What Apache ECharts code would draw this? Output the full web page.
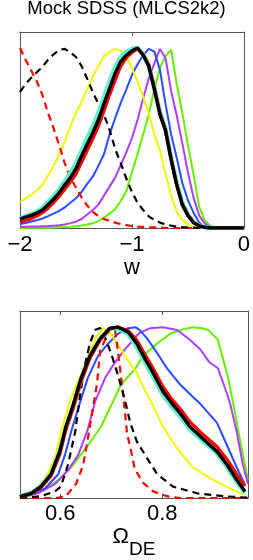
<!DOCTYPE html>
<html><head><meta charset="utf-8">
<script src="https://cdn.jsdelivr.net/npm/echarts@6/dist/echarts.min.js"></script>
<style>html,body{margin:0;padding:0;background:#fff}#c{width:253px;height:560px}</style>
</head><body><div id="c"></div>
<script>
const titleText = 'Mock SDSS (MLCS2k2)';
const topAxisName = 'w';
const wTicks = [-2, -1, 0];
const omTicks = [0.6, 0.8];

// top panel: w grid and normalised posteriors
const wGrid = [-2,-1.95,-1.9,-1.85,-1.8,-1.75,-1.7,-1.65,-1.6,-1.55,-1.5,-1.45,-1.4,-1.35,-1.3,-1.25,-1.2,-1.15,-1.1,-1.05,-1,-0.95,-0.9,-0.85,-0.8,-0.75,-0.7,-0.65,-0.6,-0.55,-0.5,-0.45,-0.4,-0.35,-0.3,-0.25,-0.2,-0.15,-0.1,-0.05,0];
const wGreen  = [0,0,0.001,0.001,0.002,0.002,0.003,0.004,0.005,0.007,0.01,0.014,0.019,0.026,0.038,0.058,0.08,0.105,0.15,0.205,0.31,0.41,0.52,0.63,0.77,0.89,0.955,0.99,0.80,0.64,0.46,0.30,0.12,0.04,0.012,0,0,0,0,0,0];
const wPurple = [0.006,0.007,0.008,0.009,0.010,0.011,0.013,0.015,0.02,0.027,0.035,0.05,0.075,0.10,0.13,0.18,0.23,0.28,0.35,0.42,0.50,0.60,0.72,0.83,0.915,0.995,0.945,0.76,0.625,0.47,0.31,0.17,0.07,0.025,0.006,0,0,0,0,0,0];
const wBlue   = [0.022,0.028,0.036,0.043,0.053,0.066,0.08,0.095,0.115,0.14,0.165,0.20,0.245,0.285,0.345,0.41,0.52,0.61,0.695,0.77,0.85,0.91,0.96,0.995,0.98,0.88,0.69,0.52,0.39,0.25,0.155,0.085,0.03,0.004,0,0,0,0,0,0,0];
const wYellow = [0.144,0.165,0.185,0.21,0.24,0.29,0.345,0.41,0.48,0.565,0.64,0.70,0.77,0.84,0.90,0.955,0.98,0.995,0.985,0.955,0.89,0.815,0.73,0.64,0.52,0.43,0.30,0.18,0.09,0.045,0.02,0.004,0,0,0,0,0,0,0,0,0];
const wCyan   = [0.055,0.066,0.078,0.092,0.112,0.145,0.178,0.215,0.26,0.305,0.36,0.43,0.50,0.565,0.64,0.73,0.815,0.895,0.95,0.98,0.995,1.0,0.965,0.905,0.78,0.645,0.55,0.39,0.25,0.14,0.075,0.033,0.013,0.004,0,0,0,0,0,0,0];
const wRed    = [0.033,0.042,0.052,0.066,0.085,0.11,0.14,0.175,0.215,0.255,0.30,0.365,0.43,0.495,0.565,0.65,0.74,0.82,0.90,0.945,0.975,0.995,0.965,0.905,0.78,0.64,0.545,0.385,0.24,0.13,0.07,0.03,0.012,0.004,0,0,0,0,0,0,0];
const wBlack  = [0.05,0.06,0.07,0.083,0.10,0.13,0.16,0.195,0.24,0.28,0.33,0.40,0.465,0.53,0.60,0.69,0.775,0.86,0.925,0.96,0.985,1.0,0.96,0.90,0.77,0.63,0.54,0.38,0.24,0.13,0.07,0.03,0.012,0.004,0,0,0,0,0,0,0];
const wRedDash = [1.0,0.935,0.875,0.815,0.74,0.64,0.555,0.46,0.36,0.28,0.225,0.17,0.125,0.09,0.065,0.05,0.04,0.03,0.022,0.016,0.011,0.008,0.006,0.004,0.003,0.002,0.001,0,0,0,0,0,0,0,0,0,0,0,0,0,0];
const wBlackDash = [0.756,0.80,0.835,0.865,0.895,0.935,0.965,0.99,0.995,0.975,0.95,0.90,0.83,0.755,0.69,0.63,0.545,0.44,0.36,0.275,0.20,0.14,0.10,0.065,0.045,0.03,0.02,0.013,0.008,0.005,0.003,0.002,0.001,0,0,0,0,0,0,0,0];

// bottom panel: [Omega_DE, normalised posterior]
const omGreen = [[0.521,0.003],[0.537,0.011],[0.570,0.05],[0.596,0.106],[0.621,0.178],[0.654,0.306],[0.680,0.417],[0.703,0.56],[0.719,0.661],[0.737,0.72],[0.748,0.756],[0.762,0.828],[0.790,0.90],[0.815,0.956],[0.841,0.983],[0.860,0.994],[0.878,0.989],[0.890,0.978],[0.909,0.922],[0.919,0.811],[0.929,0.70],[0.939,0.55],[0.952,0.344],[0.962,0.194],[0.968,0.106]];
const omPurple = [[0.521,0.005],[0.531,0.01],[0.556,0.028],[0.590,0.083],[0.615,0.161],[0.635,0.25],[0.654,0.40],[0.668,0.56],[0.688,0.70],[0.707,0.789],[0.727,0.867],[0.737,0.90],[0.748,0.94],[0.756,0.962],[0.776,0.989],[0.801,0.994],[0.829,0.978],[0.854,0.922],[0.874,0.867],[0.893,0.789],[0.909,0.756],[0.927,0.606],[0.933,0.55],[0.946,0.383],[0.958,0.194],[0.968,0.083]];
const omBlue = [[0.521,0.005],[0.543,0.022],[0.570,0.056],[0.596,0.139],[0.609,0.25],[0.621,0.383],[0.639,0.56],[0.654,0.70],[0.674,0.828],[0.694,0.90],[0.713,0.956],[0.733,0.989],[0.748,0.994],[0.756,0.978],[0.772,0.922],[0.790,0.844],[0.809,0.756],[0.835,0.661],[0.858,0.594],[0.874,0.55],[0.907,0.439],[0.927,0.306],[0.946,0.178],[0.962,0.078]];
const omYellow = [[0.521,0.006],[0.523,0.01],[0.543,0.03],[0.570,0.11],[0.590,0.233],[0.601,0.383],[0.619,0.567],[0.641,0.72],[0.658,0.85],[0.670,0.939],[0.684,0.99],[0.699,0.956],[0.719,0.867],[0.739,0.77],[0.750,0.733],[0.762,0.65],[0.780,0.55],[0.801,0.417],[0.829,0.289],[0.860,0.178],[0.899,0.106],[0.933,0.056],[0.958,0.022]];
const omCyan = [[0.521,0.01],[0.543,0.03],[0.562,0.07],[0.582,0.14],[0.599,0.27],[0.611,0.41],[0.625,0.53],[0.641,0.69],[0.658,0.82],[0.678,0.925],[0.697,0.985],[0.713,0.99],[0.733,0.955],[0.750,0.88],[0.766,0.79],[0.782,0.705],[0.801,0.60],[0.819,0.53],[0.835,0.475],[0.854,0.40],[0.880,0.33],[0.907,0.26],[0.927,0.18],[0.946,0.095],[0.962,0.03]];
const omRed = [[0.521,0.006],[0.543,0.025],[0.562,0.06],[0.582,0.13],[0.599,0.255],[0.611,0.40],[0.625,0.52],[0.641,0.68],[0.658,0.815],[0.678,0.92],[0.697,0.985],[0.713,0.995],[0.733,0.975],[0.750,0.92],[0.766,0.835],[0.782,0.755],[0.801,0.65],[0.819,0.575],[0.835,0.52],[0.854,0.445],[0.880,0.37],[0.907,0.30],[0.927,0.225],[0.946,0.14],[0.962,0.07]];
const omBlack = [[0.521,0.008],[0.523,0.011],[0.543,0.028],[0.562,0.067],[0.582,0.139],[0.599,0.272],[0.611,0.417],[0.625,0.54],[0.641,0.70],[0.658,0.828],[0.678,0.928],[0.697,0.989],[0.713,0.995],[0.733,0.967],[0.750,0.90],[0.766,0.811],[0.782,0.728],[0.801,0.622],[0.819,0.55],[0.835,0.494],[0.854,0.417],[0.880,0.344],[0.907,0.272],[0.927,0.194],[0.946,0.106],[0.962,0.039]];
const omRedDash = [[0.521,0],[0.590,0],[0.611,0.011],[0.631,0.083],[0.645,0.194],[0.656,0.38],[0.672,0.667],[0.678,0.856],[0.697,0.985],[0.707,0.985],[0.713,0.856],[0.723,0.61],[0.731,0.372],[0.737,0.30],[0.746,0.17],[0.762,0.09],[0.782,0.039],[0.809,0.011],[0.835,0],[0.968,0]];
const omBlackDash = [[0.521,0],[0.562,0.011],[0.590,0.04],[0.601,0.067],[0.615,0.194],[0.629,0.383],[0.639,0.60],[0.648,0.772],[0.658,0.90],[0.668,0.978],[0.678,0.99],[0.690,0.922],[0.703,0.811],[0.713,0.717],[0.727,0.567],[0.737,0.44],[0.750,0.33],[0.770,0.233],[0.790,0.139],[0.821,0.067],[0.868,0.028],[0.919,0.011],[0.952,0.005],[0.968,0.002]];

const FONT = '"Liberation Sans", Arial, Helvetica, sans-serif';
const YMAX = 1.089;
const BOX = '#555';

const styles = {
  green:  {color:'#66f000', width:2},
  purple: {color:'#b03cff', width:2},
  blue:   {color:'#2a4cff', width:2},
  yellow: {color:'#f5f500', width:2},
  redDash:{color:'#ff0000', width:2.2, type:[7,5]},
  blackDash:{color:'#000000', width:2.2, type:[7,5]},
  cyan:   {color:'#66f0d0', width:4.4},
  red:    {color:'#ff0000', width:3.2},
  black:  {color:'#000000', width:3.4}
};

function zip(xs, ys){ return xs.map((x,i)=>[x, ys[i]]); }
function line(name, data, xi, yi){
  return {type:'line', name, data, xAxisIndex:xi, yAxisIndex:yi, showSymbol:false, symbol:'none',
          lineStyle:Object.assign({}, styles[name]), silent:true, animation:false, z:2};
}

const topSeries = [
  ['green', wGreen], ['purple', wPurple], ['blue', wBlue], ['yellow', wYellow],
  ['redDash', wRedDash], ['blackDash', wBlackDash], ['cyan', wCyan], ['red', wRed], ['black', wBlack]
].map(([n, ys]) => line(n, zip(wGrid, ys), 0, 0));
const botSeries = [
  ['green', omGreen], ['purple', omPurple], ['blue', omBlue], ['yellow', omYellow],
  ['redDash', omRedDash], ['blackDash', omBlackDash], ['cyan', omCyan], ['red', omRed], ['black', omBlack]
].map(([n, d]) => line(n, d, 2, 2));

const axLine = {show:true, onZero:false, lineStyle:{color:BOX, width:1}};
function yAx(g, pos){ return {gridIndex:g, type:'value', position:pos, min:0, max:YMAX, axisLine:axLine,
  axisTick:{show:false}, axisLabel:{show:false}, splitLine:{show:false}}; }

const chart = echarts.init(document.getElementById('c'), null, {renderer:'canvas'});
chart.setOption({
  animation:false,
  backgroundColor:'#fff',
  title:{text:titleText, left:'center', top:-1, padding:0,
         textStyle:{fontSize:18.5, fontWeight:'normal', color:'#000', fontFamily:FONT}},
  grid:[{left:20, top:32, width:228, height:196}, {left:20, top:311, width:228, height:196}],
  xAxis:[
    {gridIndex:0, type:'value', position:'bottom', min:-2, max:0, interval:1,
     axisLine:axLine, axisTick:{inside:true, length:4, lineStyle:{color:BOX}},
     axisLabel:{fontSize:22, color:'#000', margin:6, fontFamily:FONT, showMinLabel:true, showMaxLabel:true,
                customValues:wTicks, formatter:v=>String(v).replace('-', '\u2212')},
     splitLine:{show:false}, name:topAxisName, nameLocation:'middle', nameGap:27,
     nameTextStyle:{fontSize:22, color:'#000', fontFamily:FONT}},
    {gridIndex:0, type:'value', position:'top', min:-2, max:0, interval:1,
     axisLine:axLine, axisTick:{inside:true, length:4, lineStyle:{color:BOX}},
     axisLabel:{show:false}, splitLine:{show:false}},
    {gridIndex:1, type:'value', position:'bottom', min:0.521, max:0.968,
     axisLine:axLine, axisTick:{inside:true, length:4, customValues:omTicks, lineStyle:{color:BOX}},
     axisLabel:{fontSize:22, color:'#000', margin:5, fontFamily:FONT, customValues:omTicks,
                formatter:v=>Number(v).toFixed(1)},
     splitLine:{show:false}, name:'{a|\u03A9}{b|DE}', nameLocation:'middle', nameGap:20,
     nameTextStyle:{color:'#000', fontFamily:FONT, rich:{
        a:{fontSize:22, color:'#000', fontFamily:FONT, verticalAlign:'top', lineHeight:24},
        b:{fontSize:19, color:'#000', fontFamily:FONT, verticalAlign:'top', lineHeight:20, padding:[14,0,0,0]}}}},
    {gridIndex:1, type:'value', position:'top', min:0.521, max:0.968,
     axisLine:axLine, axisTick:{inside:true, length:4, customValues:omTicks, lineStyle:{color:BOX}},
     axisLabel:{show:false}, splitLine:{show:false}}
  ],
  yAxis:[yAx(0,'left'), yAx(0,'right'), yAx(1,'left'), yAx(1,'right')],
  series: topSeries.concat(botSeries)
});
</script>
</body></html>
